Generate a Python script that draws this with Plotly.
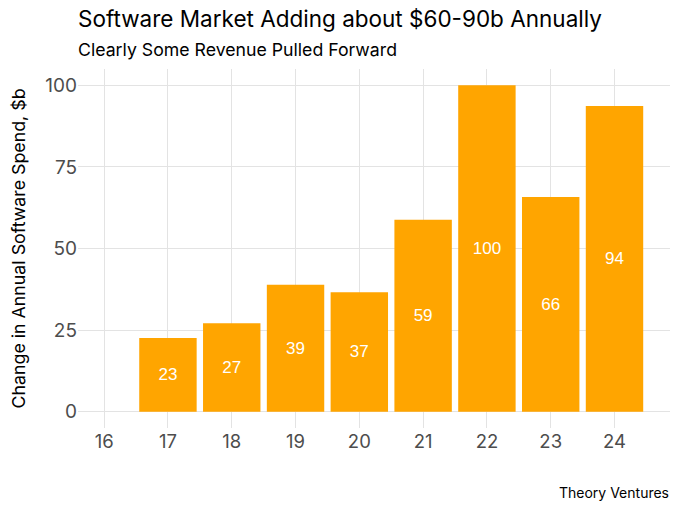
import plotly.graph_objects as go

years = [17, 18, 19, 20, 21, 22, 23, 24]
spend_change = [22.6, 27.1, 38.9, 36.6, 58.8, 100.0, 65.8, 93.7]
bar_labels = [str(round(v)) for v in spend_change]
x_ticks = [16, 17, 18, 19, 20, 21, 22, 23, 24]
y_ticks = [0, 25, 50, 75, 100]

FONT = "Inter"

# page body has an 8px margin, so the figure is sized to the rest of the window
fig = go.Figure(
    go.Bar(
        x=years,
        y=spend_change,
        width=0.9,
        marker=dict(color="#FFA500", line=dict(width=0)),
        text=bar_labels,
        textposition="inside",
        insidetextanchor="middle",
        textfont=dict(color="white", size=17, family="Liberation Sans"),
        hoverinfo="x+y",
    )
)

fig.update_layout(
    width=672,
    height=502,
    margin=dict(l=70, r=10, t=61, b=82, autoexpand=False),
    plot_bgcolor="white",
    paper_bgcolor="white",
    font=dict(family=FONT, color="#222"),
    showlegend=False,
    annotations=[
        dict(text="Software Market Adding about $60-90b Annually",
             xref="paper", yref="paper", x=0, y=1.0, xshift=-2, yshift=51,
             xanchor="left", yanchor="middle", showarrow=False,
             font=dict(size=22.5, color="black", family=FONT)),
        dict(text="Clearly Some Revenue Pulled Forward",
             xref="paper", yref="paper", x=0, y=1.0, xshift=-2, yshift=20,
             xanchor="left", yanchor="middle", showarrow=False,
             font=dict(size=17.7, color="black", family=FONT)),
        dict(text="Theory Ventures", xref="paper", yref="paper",
             x=1.0, y=0, xshift=1, yshift=-64, xanchor="right", yanchor="middle",
             showarrow=False, font=dict(size=14, color="black", family=FONT)),
    ],
)

fig.update_xaxes(
    range=[15.59, 24.87],
    tickvals=x_ticks,
    ticktext=[str(t) for t in x_ticks],
    showgrid=True, gridcolor="#e3e3e3", gridwidth=1,
    zeroline=False, showline=False, ticks="",
    tickfont=dict(size=18.5, color="#4d4d4d"),
)
fig.update_yaxes(
    range=[-5, 105],
    tickvals=y_ticks,
    showgrid=True, gridcolor="#e3e3e3", gridwidth=1,
    zeroline=False, showline=False, ticks="",
    tickfont=dict(size=19, color="#4d4d4d"),
    title=dict(text="Change in Annual Software Spend, $b",
               font=dict(size=17.8, color="black"), standoff=21),
)

fig.write_html("out.html")
